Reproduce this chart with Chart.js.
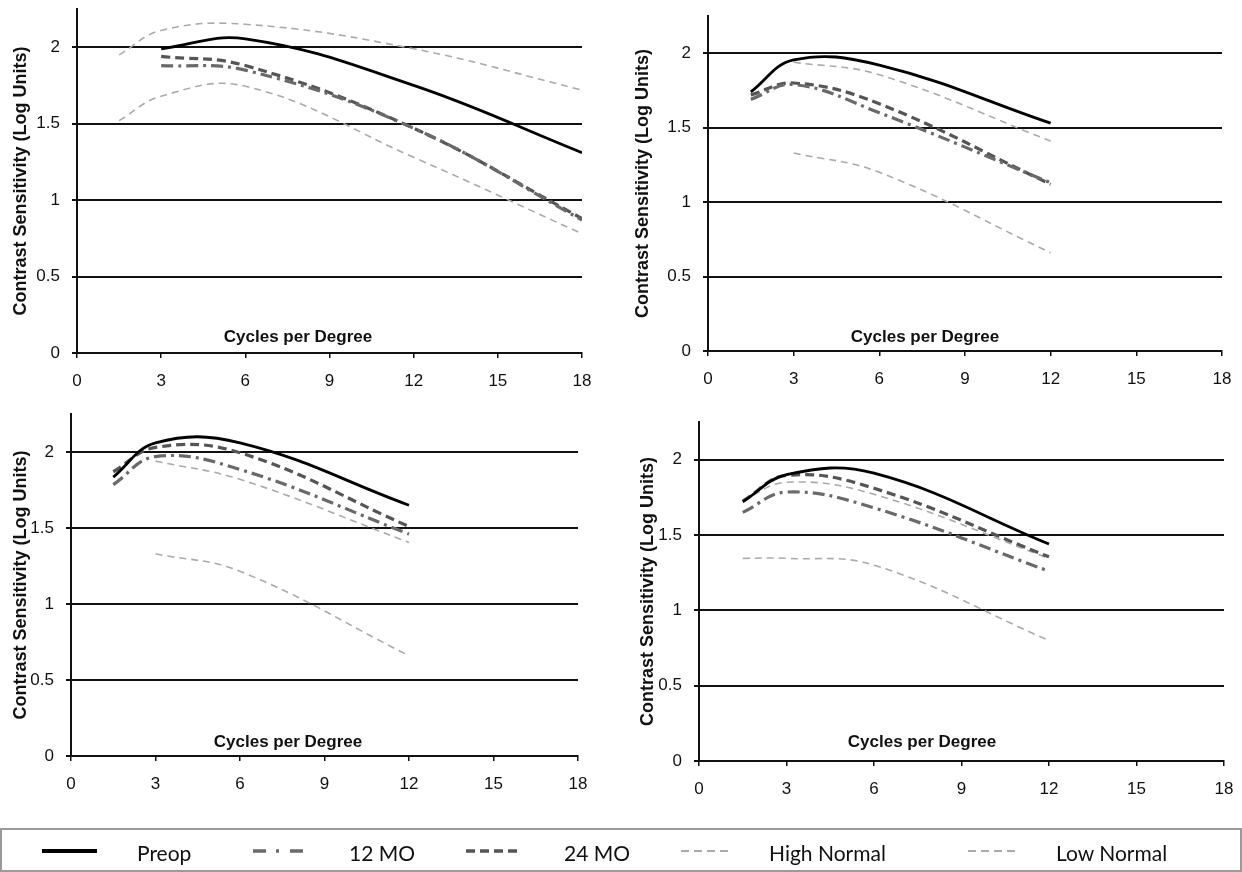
<!DOCTYPE html>
<html>
<head>
<meta charset="utf-8">
<script src="https://cdn.jsdelivr.net/npm/chart.js@4.4.1/dist/chart.umd.min.js"></script>
<style>
  html, body { margin:0; padding:0; background:#fff; }
  body { width:1242px; height:872px; overflow:hidden; position:relative; }
  canvas.panel { position:absolute; }
  .cpd { position:absolute; font:bold 17px "Liberation Sans", Arial, sans-serif; color:#111;
         transform:translate(-50%,-50%); white-space:nowrap; }
  #legendBox { position:absolute; left:0; top:828px; width:1238px; height:40px; border:2px solid #9a9a9a; }
  .lg { position:absolute; font:21px Lato, "Open Sans", sans-serif; color:#111; transform:translateY(-50%); white-space:nowrap; }
  svg.ls { position:absolute; overflow:visible; }
</style>
</head>
<body>
<div id="legendBox"></div>

<script>
// ---------- data ----------
const xFreq  = [1.5, 3, 6, 12, 18];          // cycles per degree
const xTicks = [0, 3, 6, 9, 12, 15, 18];
const yTicks = [0, 0.5, 1, 1.5, 2];
const seriesNames = ['Preop', '12 MO', '24 MO', 'High Normal', 'Low Normal'];
const xTitle = 'Cycles per Degree';
const yTitle = 'Contrast Sensitivity (Log Units)';

// Panel A (top left)
const preopA = [null, 1.99, 2.055, 1.75, 1.31];
const mo12A  = [null, 1.88, 1.85, 1.47, 0.87];
const mo24A  = [null, 1.94, 1.88, 1.47, 0.88];
const highA  = [1.95, 2.11, 2.15, 1.99, 1.72];
const lowA   = [1.52, 1.68, 1.745, 1.28, 0.78];

// Panel B (top right)
const preopB = [1.74, 1.955, 1.92, 1.53, null];
const mo12B  = [1.69, 1.79, 1.60, 1.13, null];
const mo24B  = [1.72, 1.80, 1.66, 1.12, null];
const highB  = [null, 1.94, 1.855, 1.41, null];
const lowB   = [null, 1.33, 1.20, 0.66, null];

// Panel C (bottom left)
const preopC = [1.835, 2.06, 2.06, 1.65, null];
const mo12C  = [1.785, 1.97, 1.885, 1.46, null];
const mo24C  = [1.87, 2.03, 1.995, 1.51, null];
const highC  = [null, 1.94, 1.82, 1.405, null];
const lowC   = [null, 1.33, 1.215, 0.66, null];

// Panel D (bottom right)
const preopD = [1.72, 1.90, 1.91, 1.44, null];
const mo12D  = [1.65, 1.785, 1.68, 1.26, null];
const mo24D  = [1.725, 1.895, 1.81, 1.355, null];
const highD  = [1.73, 1.85, 1.77, 1.345, null];
const lowD   = [1.345, 1.345, 1.30, 0.80, null];

// ---------- styles & layout ----------
const seriesStyles = [
  { color:'#000000', width:2.8, dash:[] },
  { color:'#6a6a6a', width:3.2, dash:[12,5,3,5] },
  { color:'#555555', width:3.2, dash:[9,5] },
  { color:'#aaaaaa', width:1.6, dash:[7,5] },
  { color:'#aaaaaa', width:1.6, dash:[7,5] }
];
// chart area bounds (L,R,T,B), canvas origin x0, y-title centre, x-title centre
const panels = [
  { series:[preopA, mo12A, mo24A, highA, lowA], x0:0,   L:77,  R:582,  T:9,   B:353, yTitleX:21,  cpd:[298,337] },
  { series:[preopB, mo12B, mo24B, highB, lowB], x0:622, L:708, R:1222, T:16,  B:351, yTitleX:643, cpd:[925,337] },
  { series:[preopC, mo12C, mo24C, highC, lowC], x0:0,   L:71,  R:578,  T:414, B:756, yTitleX:21,  cpd:[288,742] },
  { series:[preopD, mo12D, mo24D, highD, lowD], x0:622, L:699, R:1224, T:422, B:761, yTitleX:648, cpd:[922,742] }
];
const PAD_TOP = 30, PAD_RIGHT = 40, X_AXIS_H = 50;
const FONT = '"Liberation Sans", Arial, sans-serif';

function toPoints(arr) {
  const out = [];
  xFreq.forEach((x, i) => { if (arr[i] !== null) out.push({ x: x, y: arr[i] }); });
  return out;
}

panels.forEach((p) => {
  const cv = document.createElement('canvas');
  cv.className = 'panel';
  const y0 = p.T - PAD_TOP;
  const w = p.R - p.x0 + PAD_RIGHT;
  const h = p.B - y0 + X_AXIS_H;
  cv.width = w; cv.height = h;
  cv.style.left = p.x0 + 'px'; cv.style.top = y0 + 'px';
  cv.style.width = w + 'px'; cv.style.height = h + 'px';
  document.body.appendChild(cv);

  const yw = p.L - p.x0;
  const datasets = p.series.map((arr, i) => ({
    label: seriesNames[i],
    data: toPoints(arr),
    borderColor: seriesStyles[i].color,
    borderWidth: seriesStyles[i].width,
    borderDash: seriesStyles[i].dash,
    pointRadius: 0,
    fill: false,
    tension: 0.4
  }));

  new Chart(cv.getContext('2d'), {
    type: 'line',
    data: { datasets },
    options: {
      responsive: false,
      animation: false,
      devicePixelRatio: 1,
      layout: { padding: { top: PAD_TOP, right: PAD_RIGHT, left: 0, bottom: 0 } },
      plugins: { legend: { display: false }, tooltip: { enabled: false }, title: { display: false } },
      scales: {
        x: {
          type: 'linear', min: 0, max: 18,
          afterBuildTicks: (a) => { a.ticks = xTicks.map(v => ({ value: v })); },
          afterFit: (s) => { s.height = X_AXIS_H; },
          grid: { display: true, drawOnChartArea: false, drawTicks: true, tickLength: 5, color: '#111', lineWidth: 1.5 },
          border: { display: true, color: '#111', width: 2 },
          ticks: { font: { family: FONT, size: 17 }, color: '#111', padding: 13, maxRotation: 0, autoSkip: false,
                   callback: (v) => String(v) }
        },
        y: {
          type: 'linear', min: 0, max: 2.25,
          afterBuildTicks: (a) => { a.ticks = yTicks.map(v => ({ value: v })); },
          afterFit: (s) => { s.width = yw; },
          grid: { display: true, drawTicks: true, tickLength: 5, color: '#111', lineWidth: 2 },
          border: { display: true, color: '#111', width: 2 },
          ticks: { font: { family: FONT, size: 17 }, color: '#111', padding: 12, autoSkip: false,
                   callback: (v) => String(v) },
          title: { display: true, text: yTitle, color: '#111',
                   font: { family: FONT, size: 18, weight: 'bold' },
                   padding: { top: p.yTitleX - p.x0 - 10.8, bottom: 0 } }
        }
      }
    }
  });

  const t = document.createElement('div');
  t.className = 'cpd';
  t.textContent = xTitle;
  t.style.left = p.cpd[0] + 'px';
  t.style.top = p.cpd[1] + 'px';
  document.body.appendChild(t);
});

// ---------- legend ----------
const legendItems = [
  { sx1:42,  sx2:97,   tx:137,  width:4.2 },
  { sx1:253, sx2:307,  tx:349,  width:3.6 },
  { sx1:466, sx2:519,  tx:564,  width:3.6 },
  { sx1:681, sx2:729,  tx:769,  width:1.8 },
  { sx1:968, sx2:1018, tx:1056, width:1.8 }
];
const legendDash = ['', '13 10 3 11', '9 5', '8 5', '8 5'];
const LEG_Y = 851;
legendItems.forEach((it, i) => {
  const ns = 'http://www.w3.org/2000/svg';
  const svg = document.createElementNS(ns, 'svg');
  svg.setAttribute('class', 'ls');
  svg.setAttribute('width', 1242); svg.setAttribute('height', 872);
  svg.style.left = '0px'; svg.style.top = '0px';
  const ln = document.createElementNS(ns, 'line');
  ln.setAttribute('x1', it.sx1); ln.setAttribute('x2', it.sx2);
  ln.setAttribute('y1', LEG_Y); ln.setAttribute('y2', LEG_Y);
  ln.setAttribute('stroke', seriesStyles[i].color);
  ln.setAttribute('stroke-width', it.width);
  if (legendDash[i]) ln.setAttribute('stroke-dasharray', legendDash[i]);
  svg.appendChild(ln);
  document.body.appendChild(svg);

  const tx = document.createElement('div');
  tx.className = 'lg';
  tx.textContent = seriesNames[i];
  tx.style.left = it.tx + 'px';
  tx.style.top = (LEG_Y + 1) + 'px';
  document.body.appendChild(tx);
});
</script>
</body>
</html>
